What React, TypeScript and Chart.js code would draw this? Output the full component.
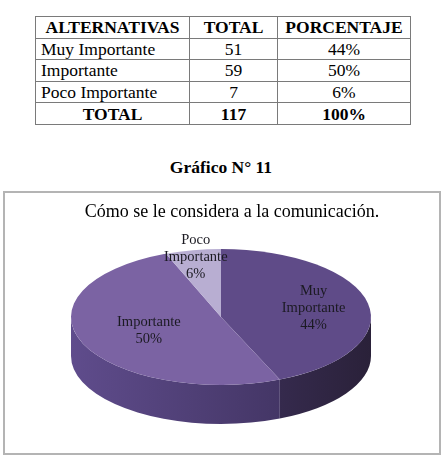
import React, { useEffect, useRef } from "react";
import { Chart, registerables } from "chart.js";

Chart.register(...registerables);

// ---- data ----
const tableHeaders = ["ALTERNATIVAS", "TOTAL", "PORCENTAJE"];
const categories = ["Muy Importante", "Importante", "Poco Importante"];
const totals = [51, 59, 7];
const percentLabels = ["44%", "50%", "6%"];
const totalRowLabel = "TOTAL";
const grandTotal = "117";
const grandPercent = "100%";
const figureCaption = "Gráfico N° 11";
const chartTitle = "Cómo se le considera a la comunicación.";

// ---- styles ----
const topColors = ["#5f4b88", "#7b63a3", "#b8aed2"];
const sideColors = [
  ["#2a2139", "#352a4d"],
  ["#443666", "#5f4c8c"],
  ["#8f85aa", "#8f85aa"],
];
const labelRadius = [0.63, 0.52, 0.9];
const SERIF = "'Liberation Serif', 'DejaVu Serif', serif";

const pie3d = {
  id: "pie3d",
  beforeDatasetsDraw(chart: any, _args: any, opts: any) {
    const arcs = chart.getDatasetMeta(0).data;
    if (!arcs.length) return;
    const { ctx, chartArea } = chart;
    const cx = (chartArea.left + chartArea.right) / 2 + opts.offsetX;
    const cy = chartArea.top + opts.ry;
    const { rx, ry, depth } = opts;
    ctx.save();
    arcs.forEach((arc: any, i: number) => {
      const s = arc.startAngle;
      const e = arc.endAngle;
      for (const k of [-2, 0, 2]) {
        const lo = k * Math.PI;
        const a = Math.max(s, lo);
        const b = Math.min(e, lo + Math.PI);
        if (b <= a) continue;
        const xa = cx + rx * Math.cos(a);
        const xb = cx + rx * Math.cos(b);
        const g = ctx.createLinearGradient(xa, 0, xb === xa ? xa + 1 : xb, 0);
        g.addColorStop(0, sideColors[i][0]);
        g.addColorStop(1, sideColors[i][1]);
        ctx.beginPath();
        ctx.ellipse(cx, cy, rx, ry, 0, a, b, false);
        ctx.ellipse(cx, cy + depth, rx, ry, 0, b, a, true);
        ctx.closePath();
        ctx.fillStyle = g;
        ctx.fill();
      }
    });
    const R = arcs[0].outerRadius;
    ctx.translate(cx, cy);
    ctx.scale(rx / R, ry / R);
    ctx.translate(-arcs[0].x, -arcs[0].y);
  },
  afterDatasetsDraw(chart: any) {
    chart.ctx.restore();
  },
  afterDraw(chart: any, _args: any, opts: any) {
    const arcs = chart.getDatasetMeta(0).data;
    const { ctx, chartArea } = chart;
    const cx = (chartArea.left + chartArea.right) / 2 + opts.offsetX;
    const cy = chartArea.top + opts.ry;
    const sum = totals.reduce((p, v) => p + v, 0);
    ctx.save();
    ctx.font = `14.5px ${SERIF}`;
    ctx.fillStyle = "#1b1a22";
    ctx.textAlign = "center";
    ctx.textBaseline = "middle";
    arcs.forEach((arc: any, i: number) => {
      const mid = (arc.startAngle + arc.endAngle) / 2;
      const f = labelRadius[i];
      const x = cx + opts.rx * f * Math.cos(mid);
      const y = cy + opts.ry * f * Math.sin(mid);
      const lines = [...categories[i].split(" "), Math.round((totals[i] / sum) * 100) + "%"];
      const lh = 17;
      lines.forEach((ln, j) => {
        ctx.fillText(ln, x, y + (j - (lines.length - 1) / 2) * lh);
      });
    });
    ctx.restore();
  },
};

function PieChart() {
  const ref = useRef<HTMLCanvasElement>(null);
  useEffect(() => {
    if (!ref.current) return;
    const chart = new Chart(ref.current, {
      type: "pie",
      data: {
        labels: categories,
        datasets: [
          {
            data: totals,
            backgroundColor: topColors,
            borderWidth: 0,
            clip: false,
          } as any,
        ],
      },
      options: {
        animation: false,
        responsive: false,
        maintainAspectRatio: false,
        layout: { padding: { left: 60, right: 40, top: 0, bottom: 10 } },
        plugins: {
          legend: { display: false },
          tooltip: { enabled: false },
          title: {
            display: true,
            text: chartTitle,
            color: "#000",
            font: { family: SERIF, size: 18, weight: "normal" as any, lineHeight: 1.2 },
            padding: { top: 8.2, bottom: 26.2 },
          },
          pie3d: { rx: 150, ry: 68, depth: 39, offsetX: -11 },
        } as any,
      },
      plugins: [pie3d],
    });
    return () => chart.destroy();
  }, []);
  return <canvas ref={ref} width={434} height={260} style={{ display: "block" }} />;
}

export default function App() {
  const cell: React.CSSProperties = {
    border: "1px solid #7a7a7a",
    padding: "0 5px",
    height: 20.6,
    lineHeight: "20px",
    whiteSpace: "nowrap",
    overflow: "hidden",
    fontFamily: SERIF,
    fontSize: 17.5,
    color: "#000",
  };
  return (
    <div
      style={{
        position: "absolute",
        left: 0,
        top: 0,
        width: 442,
        height: 458,
        background: "#fff",
        fontFamily: SERIF,
        color: "#000",
      }}
    >
      <table
        style={{
          position: "absolute",
          left: 35,
          top: 16,
          width: 375,
          borderCollapse: "collapse",
          tableLayout: "fixed",
          fontSize: 17.5,
          fontFamily: SERIF,
        }}
      >
        <colgroup>
          <col style={{ width: 154 }} />
          <col style={{ width: 88 }} />
          <col style={{ width: 133 }} />
        </colgroup>
        <tbody>
          <tr>
            {tableHeaders.map((h) => (
              <td key={h} style={{ ...cell, fontWeight: "bold", textAlign: "center" }}>
                {h}
              </td>
            ))}
          </tr>
          {categories.map((c, i) => (
            <tr key={c}>
              <td style={cell}>{c}</td>
              <td style={{ ...cell, textAlign: "center" }}>{totals[i]}</td>
              <td style={{ ...cell, textAlign: "center" }}>{percentLabels[i]}</td>
            </tr>
          ))}
          <tr>
            <td style={{ ...cell, fontWeight: "bold", textAlign: "center" }}>{totalRowLabel}</td>
            <td style={{ ...cell, fontWeight: "bold", textAlign: "center" }}>{grandTotal}</td>
            <td style={{ ...cell, fontWeight: "bold", textAlign: "center" }}>{grandPercent}</td>
          </tr>
        </tbody>
      </table>
      <div
        style={{
          position: "absolute",
          left: 0,
          top: 157,
          width: 442,
          textAlign: "center",
          fontWeight: "bold",
          fontSize: 17.5,
          lineHeight: "20px",
          fontFamily: SERIF,
        }}
      >
        {figureCaption}
      </div>
      <div
        style={{
          position: "absolute",
          left: 3,
          top: 191,
          width: 438,
          height: 264,
          boxSizing: "border-box",
          border: "2px solid #b4b4b4",
          overflow: "hidden",
        }}
      >
        <PieChart />
      </div>
    </div>
  );
}
